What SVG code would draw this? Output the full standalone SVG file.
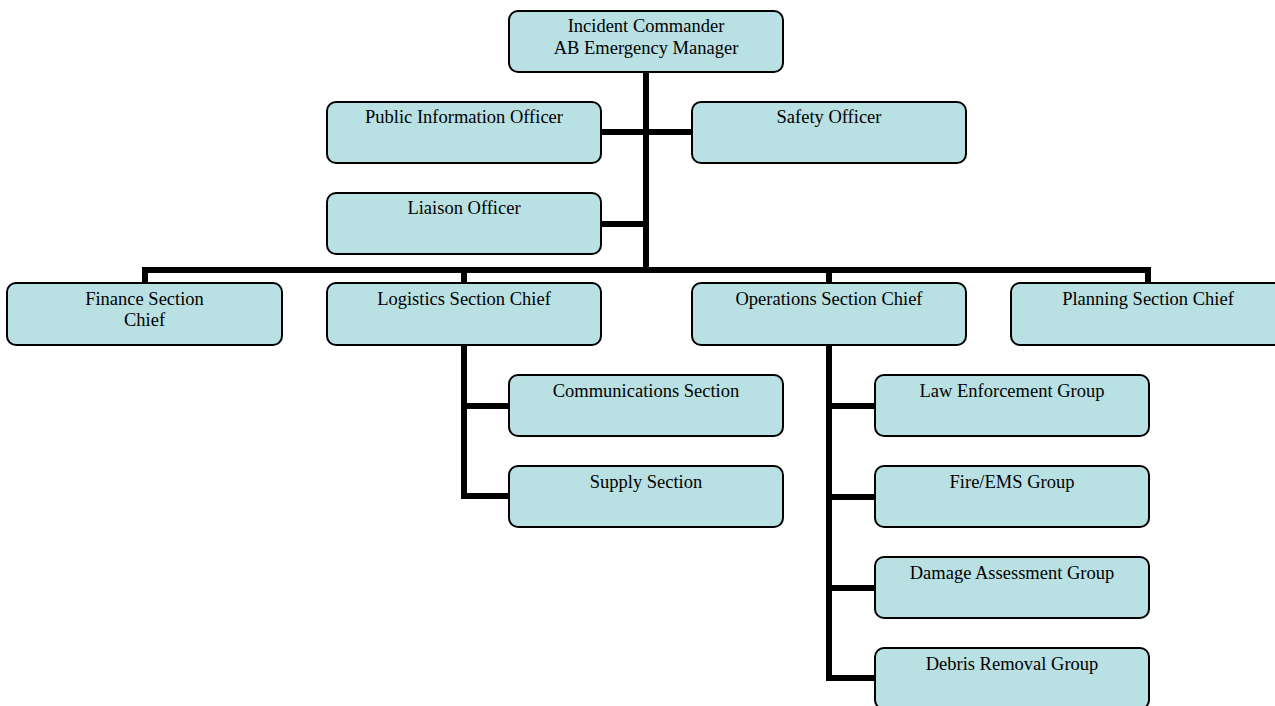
<svg xmlns="http://www.w3.org/2000/svg" width="1275" height="706" viewBox="0 0 1275 706">
<style>
.box{fill:#b9e0e3;stroke:#000;stroke-width:2}
.t{font-family:"Liberation Serif","Times New Roman",serif;font-size:18.5px;fill:#000;text-anchor:middle}
.c{fill:none;stroke:#000;stroke-width:6;stroke-linejoin:miter;stroke-linecap:butt}
</style>
<rect width="1275" height="706" fill="#fff"/>
<g id="connectors">
<path class="c" d="M646,72 V270"/>
<path class="c" d="M601,132 H692"/>
<path class="c" d="M601,224 H646"/>
<path class="c" d="M145,283 V270 H1148 V283"/>
<path class="c" d="M464,270 V283"/>
<path class="c" d="M829,270 V283"/>
<path class="c" d="M464,345 V496 H509"/>
<path class="c" d="M464,406 H509"/>
<path class="c" d="M829,345 V678 H875"/>
<path class="c" d="M829,406 H875"/>
<path class="c" d="M829,497 H875"/>
<path class="c" d="M829,588 H875"/>
</g>
<g id="n-ic"><rect class="box" x="509" y="11" width="274" height="61" rx="9"/><text class="t" x="646" y="32">Incident Commander</text><text class="t" x="646" y="54">AB Emergency Manager</text></g>
<g id="n-pio"><rect class="box" x="327" y="102" width="274" height="61" rx="9"/><text class="t" x="464" y="123">Public Information Officer</text></g>
<g id="n-safety"><rect class="box" x="692" y="102" width="274" height="61" rx="9"/><text class="t" x="829" y="123">Safety Officer</text></g>
<g id="n-liaison"><rect class="box" x="327" y="193" width="274" height="61" rx="9"/><text class="t" x="464" y="214">Liaison Officer</text></g>
<g id="n-finance"><rect class="box" x="7" y="283" width="275" height="62" rx="9"/><text class="t" x="144.5" y="305">Finance Section</text><text class="t" x="144.5" y="326">Chief</text></g>
<g id="n-logistics"><rect class="box" x="327" y="283" width="274" height="62" rx="9"/><text class="t" x="464" y="305">Logistics Section Chief</text></g>
<g id="n-operations"><rect class="box" x="692" y="283" width="274" height="62" rx="9"/><text class="t" x="829" y="305">Operations Section Chief</text></g>
<g id="n-planning"><rect class="box" x="1011" y="283" width="274" height="62" rx="9"/><text class="t" x="1148" y="305">Planning Section Chief</text></g>
<g id="n-comms"><rect class="box" x="509" y="375" width="274" height="61" rx="9"/><text class="t" x="646" y="397">Communications Section</text></g>
<g id="n-supply"><rect class="box" x="509" y="466" width="274" height="61" rx="9"/><text class="t" x="646" y="488">Supply Section</text></g>
<g id="n-law"><rect class="box" x="875" y="375" width="274" height="61" rx="9"/><text class="t" x="1012" y="397">Law Enforcement Group</text></g>
<g id="n-fire"><rect class="box" x="875" y="466" width="274" height="61" rx="9"/><text class="t" x="1012" y="488">Fire/EMS Group</text></g>
<g id="n-damage"><rect class="box" x="875" y="557" width="274" height="61" rx="9"/><text class="t" x="1012" y="579">Damage Assessment Group</text></g>
<g id="n-debris"><rect class="box" x="875" y="648" width="274" height="61" rx="9"/><text class="t" x="1012" y="670">Debris Removal Group</text></g>
</svg>
